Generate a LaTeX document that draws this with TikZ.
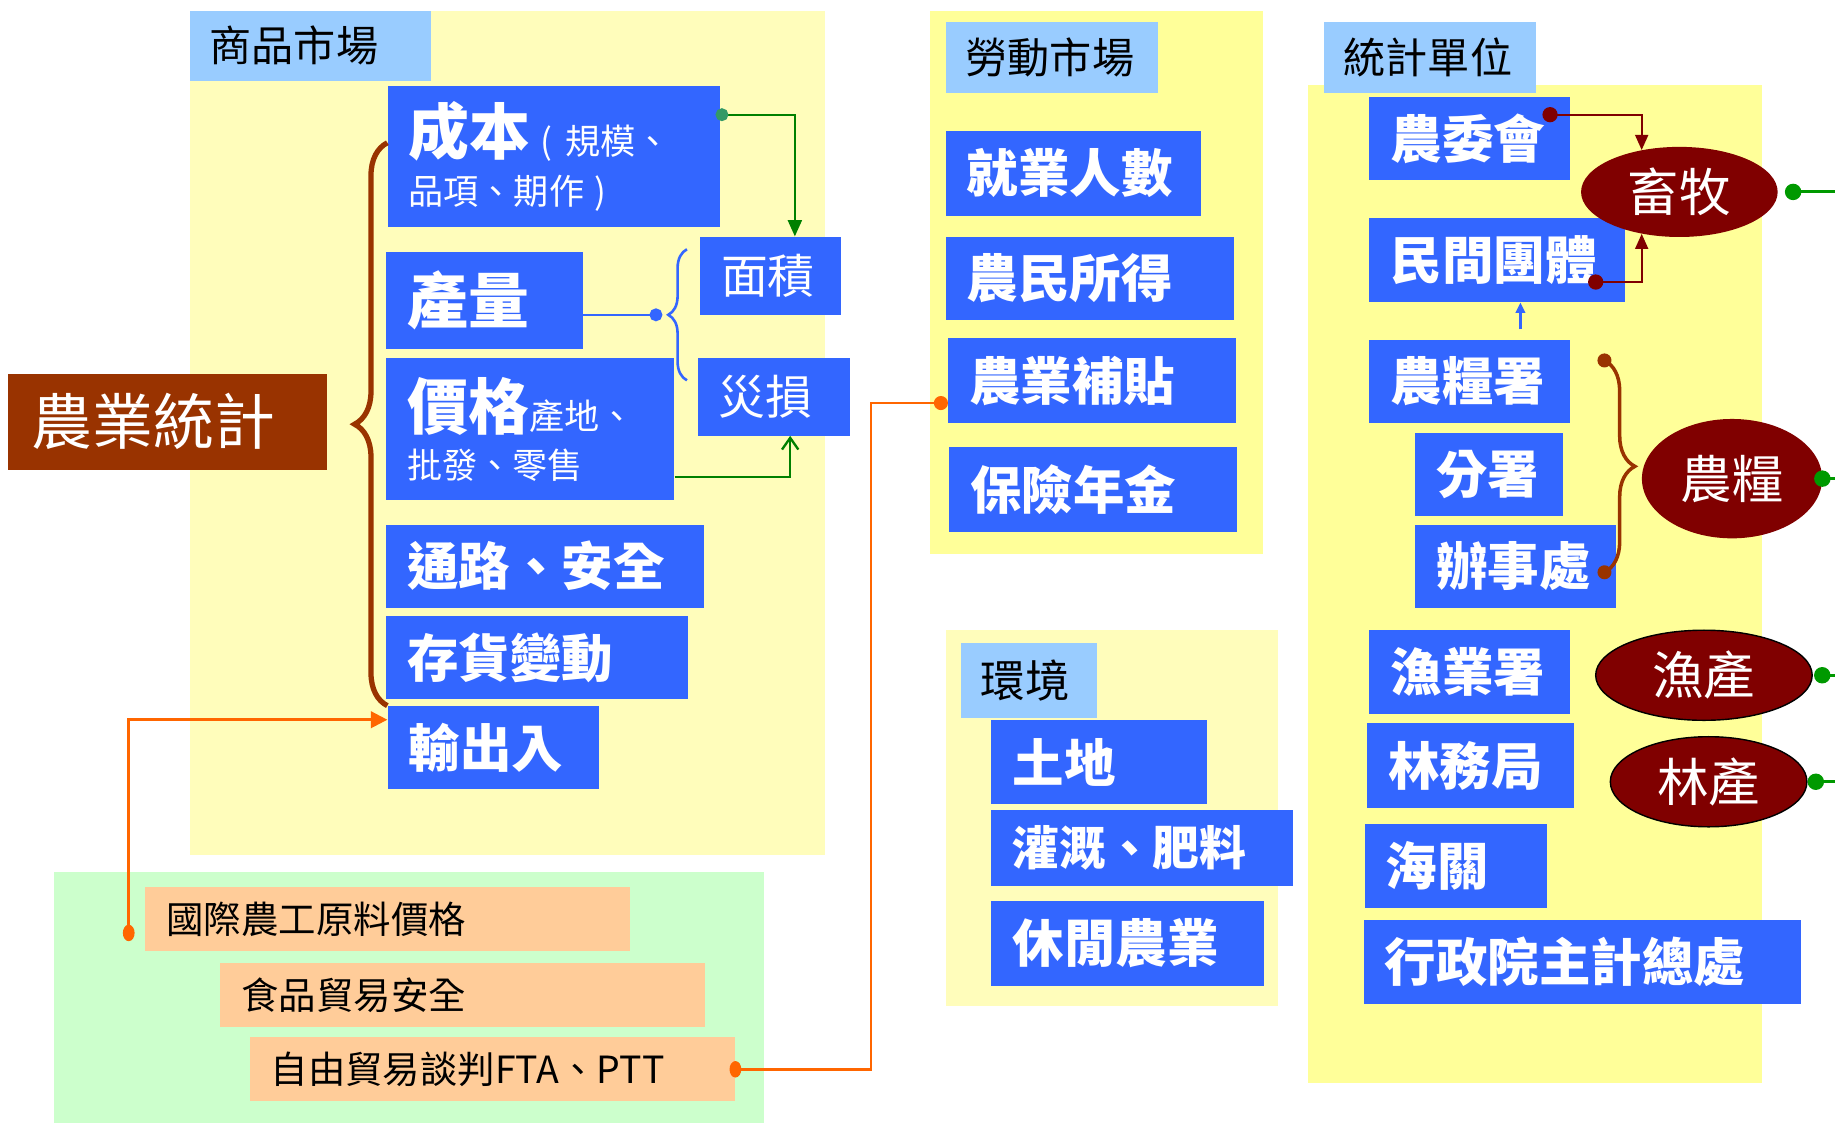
\documentclass[tikz,border=0pt]{standalone}
\usepackage{fontspec}
\setmainfont{Noto Sans CJK TC}
\usetikzlibrary{shapes.geometric,arrows.meta,decorations.pathreplacing,calc}

\definecolor{itemblue}{HTML}{3366FF}
\definecolor{tagblue}{HTML}{99CCFF}
\definecolor{paleyellow}{HTML}{FFFDBB}
\definecolor{deepyellow}{HTML}{FFFF99}
\definecolor{mintgreen}{HTML}{CCFFCC}
\definecolor{peach}{HTML}{FFCC99}
\definecolor{rust}{HTML}{993300}
\definecolor{unitred}{HTML}{800000}
\definecolor{linkorange}{HTML}{FF6600}
\definecolor{linkgreen}{HTML}{008000}
\definecolor{dotgreen}{HTML}{009900}
\definecolor{dotteal}{HTML}{339966}

\newcommand\fs[1]{\fontsize{#1}{#1}\selectfont}

\begin{document}
\begin{tikzpicture}[x=1pt,y=-1pt,
    tag/.style 2 args={anchor=north west, fill=tagblue, text=black, font=\fs{36},
      inner xsep=17pt, inner ysep=0pt, align=left, text width=#1pt-34pt, minimum height=#2pt},
    item/.style 2 args={anchor=north west, fill=itemblue, text=white, font=\fs{44}\bfseries,
      inner xsep=18pt, inner ysep=0pt, align=left, text width=#1pt-36pt, minimum height=#2pt},
    note/.style 2 args={anchor=north west, fill=peach, text=black, font=\fs{32},
      inner xsep=18pt, inner ysep=0pt, align=left, text width=#1pt-36pt, minimum height=#2pt},
    hub/.style={anchor=north west, fill=rust, text=white, font=\fs{52},
      inner xsep=20pt, inner ysep=0pt, align=left, text width=232pt, minimum height=82pt},
    sector/.style={ellipse, fill=unitred, text=white, font=\fs{44}, inner sep=0pt},
    glink/.style={linkgreen, line width=2pt},
    olink/.style={linkorange, line width=2.2pt},
    rlink/.style={unitred, line width=2pt},
    blink/.style={itemblue, line width=2.2pt},
    dlink/.style={dotgreen, line width=2.5pt}]
  \useasboundingbox (0,0) rectangle (1568,960);

  % panels
  \fill[paleyellow] (162,9) rectangle (705,731);
  \fill[mintgreen] (46,745) rectangle (653,960);
  \fill[deepyellow] (795,9) rectangle (1079,473);
  \fill[paleyellow] (808,538) rectangle (1092,860);
  \fill[deepyellow] (1118,73) rectangle (1506,925);

  % goods market
  \node[tag={206}{60}] (goods) at (162,9) {商品市場};
  \node[item={284}{121}, font=\fontsize{30}{42}\selectfont] (cost) at (331,73)
    {{\fs{52}\bfseries 成本}\hspace{9pt}(\hspace{11pt}規模、\\品項、期作\hspace{9pt})};
  \node[item={168}{83}, font=\fs{52}\bfseries] (qty) at (330,215) {產量};
  \node[item={246}{121}, font=\fontsize{30}{42}\selectfont] (price) at (330,306)
    {{\fs{52}\bfseries 價格}產地、\\批發、零售};
  \node[item={120}{67}, font=\fs{40}] (area) at (598,202) {面積};
  \node[item={130}{66}, font=\fs{40}] (loss) at (596,306) {災損};
  \node[item={271}{71}] (channel) at (330,448) {通路、安全};
  \node[item={258}{71}] (stock) at (330,526) {存貨變動};
  \node[item={181}{71}] (trade) at (331,603) {輸出入};
  \node[hub] (agri) at (7,319) {農業統計};

  % trade issues
  \node[note={414}{54}] (rawprice) at (124,758) {國際農工原料價格};
  \node[note={414}{54}] (foodsafe) at (188,823) {食品貿易安全};
  \node[note={415}{55}] (fta) at (213,886) {自由貿易談判FTA、PTT};

  % labour market
  \node[tag={181}{60}] (labor) at (808,19) {勞動市場};
  \node[item={218}{72}] (jobs) at (808,112) {就業人數};
  \node[item={246}{71}] (income) at (808,202) {農民所得};
  \node[item={246}{72}] (subsidy) at (810,289) {農業補貼};
  \node[item={246}{72}] (pension) at (811,382) {保險年金};

  % environment
  \node[tag={116}{64}, font=\fs{38}] (env) at (821,549) {環境};
  \node[item={184}{72}] (land) at (847,615) {土地};
  \node[item={258}{65}, font=\fs{40}\bfseries] (irrig) at (847,692) {灌溉、肥料};
  \node[item={233}{72}] (leisure) at (847,770) {休閒農業};

  % statistics units
  \node[tag={181}{60}] (units) at (1131,19) {統計單位};
  \node[item={171}{71}] (council) at (1170,83) {農委會};
  \node[item={218}{72}] (civil) at (1170,186) {民間團體};
  \node[item={171}{71}] (grain) at (1170,290) {農糧署};
  \node[item={126}{71}] (branch) at (1209,370) {分署};
  \node[item={172}{71}] (office) at (1209,448) {辦事處};
  \node[item={171}{72}] (fish) at (1170,538) {漁業署};
  \node[item={177}{72}] (forest) at (1168,618) {林務局};
  \node[item={156}{72}] (customs) at (1166,704) {海關};
  \node[item={374}{72}] (dgbas) at (1165,786) {行政院主計總處};

  \node[sector, minimum width=168pt, minimum height=77pt] (livestock) at (1435,164) {畜牧};
  \node[sector, minimum width=154pt, minimum height=102pt] (crops) at (1480,409) {農糧};
  \node[sector, draw=black, line width=1.2pt, minimum width=185pt, minimum height=77pt] (fishery) at (1456,577) {漁產};
  \node[sector, draw=black, line width=1.2pt, minimum width=168pt, minimum height=77pt] (timber) at (1460,668) {\raisebox{-8pt}{林產}};

  % braces
  \draw[rust, line width=4.5pt, decorate, decoration={brace, amplitude=28pt}]
    (trade.north west) -- ([yshift=-49pt]cost.north west);
  \coordinate (bb1) at (587,325);
  \coordinate (bb2) at (587,213);
  \coordinate (btip) at (566,269);
  \draw[blink, decorate, decoration={brace, amplitude=16pt}] (bb1) -- (bb2);
  \draw[blink, {Circle[length=11pt]}-] (btip) -- (btip -| qty.east);
  \coordinate (gb1) at (1371,308);
  \coordinate (gb2) at (1371,489);
  \draw[rust, line width=3pt, decorate, decoration={brace, amplitude=26pt}] (gb1) -- (gb2);
  \fill[rust] (gb1) circle[radius=6pt] (gb2) circle[radius=6pt];

  % connectors
  \draw[glink, {Circle[length=11pt, color=dotteal]}-{Triangle[length=14pt, width=12pt]}]
    ([xshift=-4pt, yshift=-25pt]cost.north east) -| ([xshift=21pt]area.north);
  \draw[glink, -{Straight Barb[length=10pt, width=14pt]}]
    ([yshift=20pt]price.south east) -| ([xshift=14pt]loss.south);
  \draw[olink, {Circle[length=14pt, width=10pt]}-{Triangle[length=14pt, width=14pt]}]
    ([xshift=-14pt, yshift=-19pt]rawprice.west) |- ([yshift=-12pt]trade.north west);
  \draw[olink, {Circle[length=10pt, width=14pt]}-{Circle[length=12pt]}]
    ([xshift=-5pt]fta.east) -- ++(121,0) |- ([yshift=17pt]subsidy.south west);

  \coordinate (d1) at (1318,98);
  \coordinate (d2) at (1357,241);
  \draw[rlink, {Circle[length=13pt]}-{Triangle[length=13pt, width=11pt]}] (d1) -| (livestock.132);
  \draw[rlink, {Circle[length=13pt]}-{Triangle[length=13pt, width=11pt]}] (d2) -| (livestock.228);
  \draw[blink, -{Triangle[length=9pt, width=8pt]}] ($(civil.south)+(20,23)$) -- ([xshift=20pt]civil.south);

  \coordinate (rim) at (1568,0);
  \draw[dlink, {Circle[length=14pt]}-] ([xshift=6pt]livestock.east) -- (livestock.east -| rim);
  \draw[dlink, {Circle[length=14pt]}-] ([xshift=-7pt]crops.east) -- (crops.east -| rim);
  \draw[dlink, {Circle[length=14pt]}-] ([xshift=1pt]fishery.east) -- (fishery.east -| rim);
  \draw[dlink, {Circle[length=14pt]}-] (timber.east) -- (timber.east -| rim);
\end{tikzpicture}
\end{document}
